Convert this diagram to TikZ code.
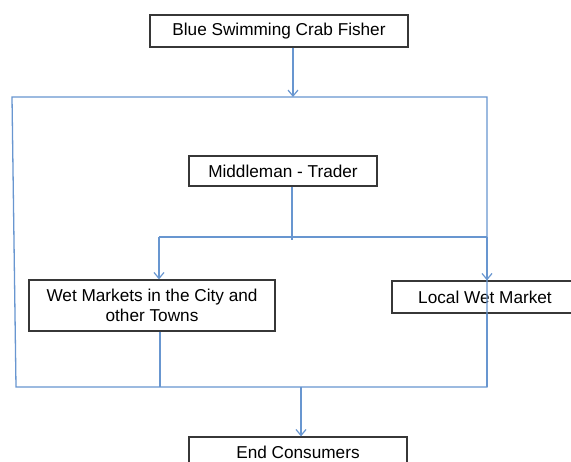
\documentclass[tikz,border=0pt]{standalone}
\usepackage{fontspec}
\setmainfont{Liberation Sans}
\usetikzlibrary{arrows.meta}
\definecolor{flow}{RGB}{104,150,208}
\definecolor{boxline}{RGB}{55,55,55}
\begin{document}
\begin{tikzpicture}[x=1pt,y=-1pt,
  stage/.style={draw=boxline, line width=1.2pt, fill=white, inner sep=0pt,
    font=\fontsize{17.2}{19.5}\selectfont, align=center},
  flowline/.style={draw=flow, line width=1.3pt},
  flowarrow/.style={flowline, -{Straight Barb[length=6pt,width=10pt,line width=1.2pt]}}]
\useasboundingbox (0,0) rectangle (571,462);
\fill[white] (0,0) rectangle (571,462);
% nodes
\node[stage, minimum width=258pt, minimum height=32pt] (fisher) at (279,31) {Blue Swimming Crab Fisher};
\node[stage, minimum width=188pt, minimum height=30pt] (middle) at (283,171) {Middleman - Trader};
\node[stage, minimum width=246pt, minimum height=51pt] (wet) at (152,305.5) {Wet Markets in the City and\\other Towns};
\node[stage, minimum width=186pt, minimum height=32pt] (local) at (485,297) {Local Wet Market};
\node[stage, minimum width=218pt, minimum height=30pt] (end) at (298,452) {End Consumers};
% frame coordinates
\coordinate (ftl) at (12,97);
\coordinate (ftr) at (487,97);
\coordinate (fbr) at (487,387);
\coordinate (fbl) at (16,387);
\coordinate (fin) at (293,97);
\coordinate (fout) at (301,387);
\coordinate (splitl) at (159,237);
\coordinate (splitr) at (487,237);
\coordinate (mid) at (292,240);
\coordinate (wetdown) at (160,387);
\coordinate (localdown) at (487,387);
% frame
\draw[flowline] (ftl) -- (ftr) -- (fbr) -- (fbl) -- cycle;
% connectors
\draw[flowarrow] (fin |- fisher.south) -- (fin);
\draw[flowline] (mid |- middle.south) -- (mid);
\draw[flowline] (splitl) -- (splitr);
\draw[flowarrow] (splitl) -- (splitl |- wet.north);
\draw[flowarrow] (splitr) -- (splitr |- local.north);
\draw[flowline] (wetdown |- wet.south) -- (wetdown);
\draw[flowline] (localdown |- local.south) -- (localdown);
\draw[flowarrow] (fout) -- (fout |- end.north);
\end{tikzpicture}
\end{document}
